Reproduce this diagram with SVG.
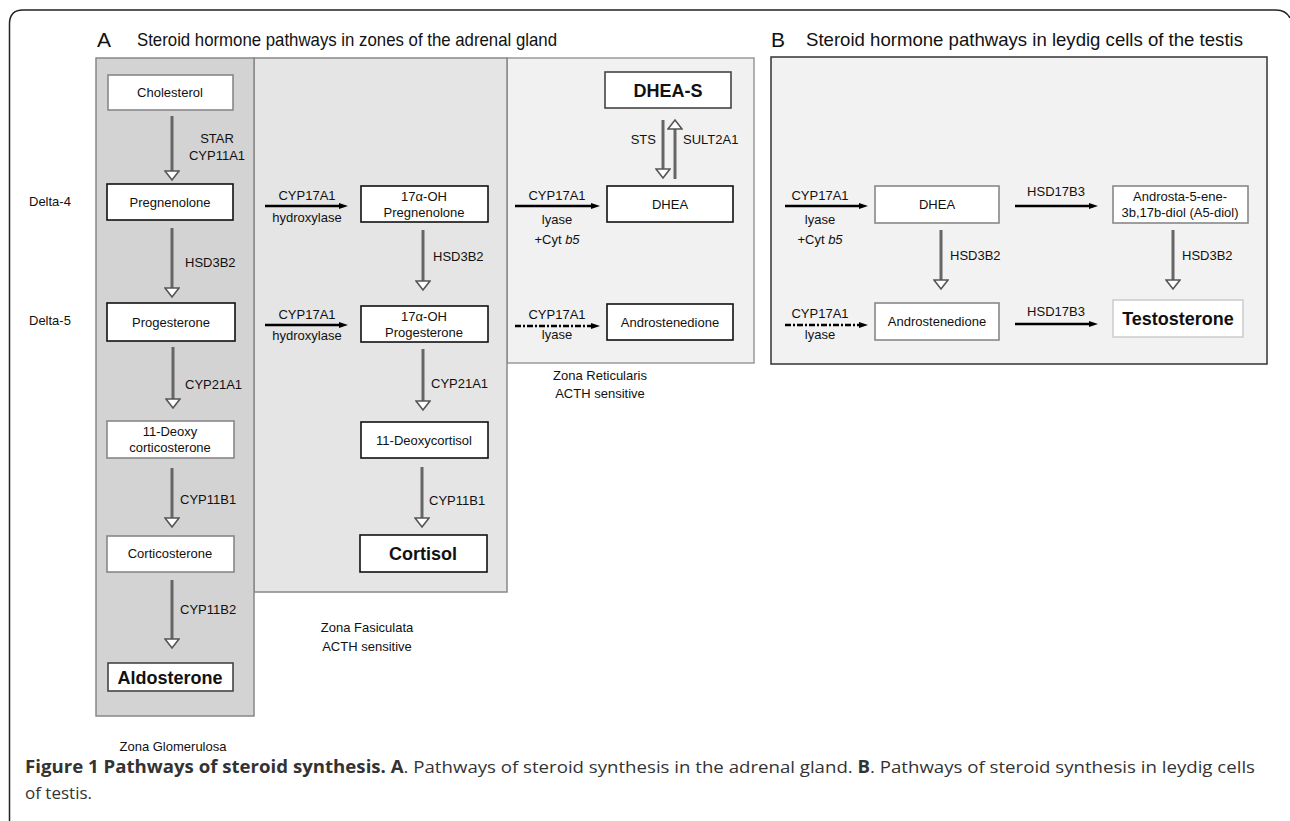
<svg xmlns="http://www.w3.org/2000/svg" width="1290" height="821" viewBox="0 0 1290 821">
<style>
text{font-family:"Liberation Sans",Arial,sans-serif;fill:#111;}
.t{font-size:13px;text-anchor:middle;}
.l{font-size:13px;}
.b{font-size:18px;font-weight:bold;text-anchor:middle;}
.title{font-size:18.5px;}
.node{fill:#fff;stroke:#111;stroke-width:1.6;}
.lnode{fill:#fff;stroke:#888;stroke-width:1.6;}
.v{stroke:#666;stroke-width:3;fill:none;}
.h{stroke:#000;stroke-width:2.5;fill:none;}
.d{stroke:#000;stroke-width:2.5;fill:none;stroke-dasharray:6 2 2 2;}
.cap{font-family:"Open Sans","Noto Sans",sans-serif;font-size:17px;fill:#333;}
</style>
<defs>
<marker id="open" markerUnits="userSpaceOnUse" markerWidth="12" markerHeight="16" refX="1" refY="8" orient="auto" viewBox="0 0 12 16">
<path d="M1,1 L10,8 L1,15 Z" fill="#fff" stroke="#555" stroke-width="1.6"/>
</marker>
<marker id="fill" markerUnits="userSpaceOnUse" markerWidth="10" markerHeight="8" refX="1" refY="4" orient="auto" viewBox="0 0 10 8">
<path d="M0,1 L9,4 L0,7 Z" fill="#000"/>
</marker>
</defs>

<!-- outer frame -->
<path d="M9.5,821 L9.5,24 Q9.5,10 23,10 L1276,10 Q1286,10 1290,18" fill="none" stroke="#222" stroke-width="1.5"/>

<!-- titles -->
<text x="97" y="47" class="title" style="font-size:21px">A</text>
<text x="137" y="46" class="title" textLength="420" lengthAdjust="spacingAndGlyphs">Steroid hormone pathways in zones of the adrenal gland</text>
<text x="771" y="47" class="title" style="font-size:21px">B</text>
<text x="806" y="46" class="title" textLength="437" lengthAdjust="spacingAndGlyphs">Steroid hormone pathways in leydig cells of the testis</text>

<!-- zones -->
<g id="zona-reticularis">
<rect x="507" y="58" width="247" height="305" fill="#f1f1f1" stroke="#999" stroke-width="1.5"/>
<text x="600" y="380" class="t">Zona Reticularis</text>
<text x="600" y="398" class="t">ACTH sensitive</text>
</g>
<g id="zona-fasiculata">
<rect x="254" y="58" width="253" height="534" fill="#e5e5e5" stroke="#888" stroke-width="1.5"/>
<text x="367" y="632" class="t">Zona Fasiculata</text>
<text x="367" y="651" class="t">ACTH sensitive</text>
</g>
<g id="zona-glomerulosa">
<rect x="96" y="58" width="158" height="658" fill="#d3d3d3" stroke="#888" stroke-width="1.5"/>
<text x="173" y="751" class="t">Zona Glomerulosa</text>
</g>
<g id="panel-b">
<rect x="771" y="57" width="496" height="307" fill="#f2f2f2" stroke="#333" stroke-width="1.5"/>
</g>

<!-- side labels -->
<text x="29" y="206" class="l">Delta-4</text>
<text x="29" y="325" class="l">Delta-5</text>

<!-- connectors -->
<g id="connectors">
<line x1="172" y1="116" x2="172" y2="171" class="v" marker-end="url(#open)"/>
<line x1="172" y1="228" x2="172" y2="288" class="v" marker-end="url(#open)"/>
<line x1="173" y1="347" x2="173" y2="399" class="v" marker-end="url(#open)"/>
<line x1="172" y1="468" x2="172" y2="518" class="v" marker-end="url(#open)"/>
<line x1="172" y1="580" x2="172" y2="639" class="v" marker-end="url(#open)"/>
<line x1="423" y1="230" x2="423" y2="281" class="v" marker-end="url(#open)"/>
<line x1="423" y1="349" x2="423" y2="401" class="v" marker-end="url(#open)"/>
<line x1="422" y1="467" x2="422" y2="518" class="v" marker-end="url(#open)"/>
<line x1="265" y1="206" x2="340" y2="206" class="h" marker-end="url(#fill)"/>
<line x1="265" y1="325" x2="340" y2="325" class="h" marker-end="url(#fill)"/>
<line x1="515" y1="206" x2="592" y2="206" class="h" marker-end="url(#fill)"/>
<line x1="515" y1="326" x2="592" y2="326" class="d" marker-end="url(#fill)"/>
<line x1="663" y1="120" x2="663" y2="169" class="v" marker-end="url(#open)"/>
<line x1="675" y1="179" x2="675" y2="129" class="v" marker-end="url(#open)"/>
<line x1="785" y1="206" x2="860" y2="206" class="h" marker-end="url(#fill)"/>
<line x1="785" y1="325" x2="860" y2="325" class="d" marker-end="url(#fill)"/>
<line x1="1015" y1="206" x2="1090" y2="206" class="h" marker-end="url(#fill)"/>
<line x1="1015" y1="324" x2="1090" y2="324" class="h" marker-end="url(#fill)"/>
<line x1="941" y1="230" x2="941" y2="280" class="v" marker-end="url(#open)"/>
<line x1="1173" y1="230" x2="1173" y2="280" class="v" marker-end="url(#open)"/>
</g>

<!-- connector labels -->
<g id="labels">
<text x="217" y="143" class="t">STAR</text>
<text x="217" y="160" class="t">CYP11A1</text>
<text x="185" y="267" class="l">HSD3B2</text>
<text x="185" y="389" class="l">CYP21A1</text>
<text x="180" y="504" class="l">CYP11B1</text>
<text x="180" y="614" class="l">CYP11B2</text>
<text x="307" y="200" class="t">CYP17A1</text>
<text x="307" y="222" class="t">hydroxylase</text>
<text x="307" y="319" class="t">CYP17A1</text>
<text x="307" y="340" class="t">hydroxylase</text>
<text x="433" y="261" class="l">HSD3B2</text>
<text x="431" y="388" class="l">CYP21A1</text>
<text x="429" y="505" class="l">CYP11B1</text>
<text x="557" y="200" class="t">CYP17A1</text>
<text x="557" y="224" class="t">lyase</text>
<text x="557" y="244" class="t">+Cyt <tspan font-style="italic">b5</tspan></text>
<text x="557" y="319" class="t">CYP17A1</text>
<text x="557" y="339" class="t">lyase</text>
<text x="656" y="144" class="l" text-anchor="end">STS</text>
<text x="683" y="144" class="l">SULT2A1</text>
<text x="820" y="200" class="t">CYP17A1</text>
<text x="820" y="224" class="t">lyase</text>
<text x="820" y="244" class="t">+Cyt <tspan font-style="italic">b5</tspan></text>
<text x="820" y="318" class="t">CYP17A1</text>
<text x="820" y="339" class="t">lyase</text>
<text x="1056" y="196" class="t">HSD17B3</text>
<text x="1056" y="316" class="t">HSD17B3</text>
<text x="950" y="260" class="l">HSD3B2</text>
<text x="1182" y="260" class="l">HSD3B2</text>
</g>

<!-- nodes -->
<g id="cholesterol"><rect x="108" y="75" width="125" height="35" class="lnode"/><text x="170" y="97" class="t">Cholesterol</text></g>
<g id="pregnenolone"><rect x="107" y="184" width="126" height="36" class="node"/><text x="170" y="207" class="t">Pregnenolone</text></g>
<g id="progesterone"><rect x="107" y="303" width="128" height="38" class="node"/><text x="171" y="327" class="t">Progesterone</text></g>
<g id="deoxycorticosterone"><rect x="107" y="421" width="127" height="37" class="lnode"/><text x="170" y="436" class="t">11-Deoxy</text><text x="170" y="452" class="t">corticosterone</text></g>
<g id="corticosterone"><rect x="107" y="536" width="127" height="36" class="lnode"/><text x="170" y="558" class="t">Corticosterone</text></g>
<g id="aldosterone"><rect x="108" y="663" width="125" height="28" class="node" style="stroke:#444"/><text x="170" y="684" class="b">Aldosterone</text></g>

<g id="oh-pregnenolone"><rect x="361" y="186" width="127" height="36" class="node"/><text x="424" y="201" class="t">17α-OH</text><text x="424" y="217" class="t">Pregnenolone</text></g>
<g id="oh-progesterone"><rect x="361" y="306" width="127" height="36" class="node"/><text x="424" y="321" class="t">17α-OH</text><text x="424" y="337" class="t">Progesterone</text></g>
<g id="deoxycortisol"><rect x="361" y="422" width="127" height="36" class="node"/><text x="424" y="445" class="t">11-Deoxycortisol</text></g>
<g id="cortisol"><rect x="360" y="535" width="127" height="37" class="node"/><text x="423" y="560" class="b">Cortisol</text></g>

<g id="dhea-s"><rect x="605" y="72" width="126" height="36" class="node" style="stroke:#444"/><text x="668" y="97" class="b">DHEA-S</text></g>
<g id="dhea-a"><rect x="607" y="186" width="126" height="36" class="node"/><text x="670" y="209" class="t">DHEA</text></g>
<g id="androstenedione-a"><rect x="607" y="304" width="126" height="36" class="node"/><text x="670" y="327" class="t">Androstenedione</text></g>

<g id="dhea-b"><rect x="875" y="186" width="124" height="37" class="lnode"/><text x="937" y="209" class="t">DHEA</text></g>
<g id="a5-diol"><rect x="1113" y="186" width="135" height="37" class="lnode"/><text x="1180" y="201" class="t">Androsta-5-ene-</text><text x="1180" y="217" class="t">3b,17b-diol (A5-diol)</text></g>
<g id="androstenedione-b"><rect x="875" y="303" width="124" height="37" class="lnode"/><text x="937" y="326" class="t">Androstenedione</text></g>
<g id="testosterone"><rect x="1113" y="300" width="130" height="37" fill="#fff" stroke="#ccc" stroke-width="1.5"/><text x="1178" y="325" class="b">Testosterone</text></g>

<!-- caption -->
<text x="25" y="773" class="cap" textLength="1230" lengthAdjust="spacingAndGlyphs"><tspan font-weight="bold">Figure 1 Pathways of steroid synthesis. A</tspan>. Pathways of steroid synthesis in the adrenal gland. <tspan font-weight="bold">B</tspan>. Pathways of steroid synthesis in leydig cells</text>
<text x="25" y="799" class="cap">of testis.</text>
</svg>
